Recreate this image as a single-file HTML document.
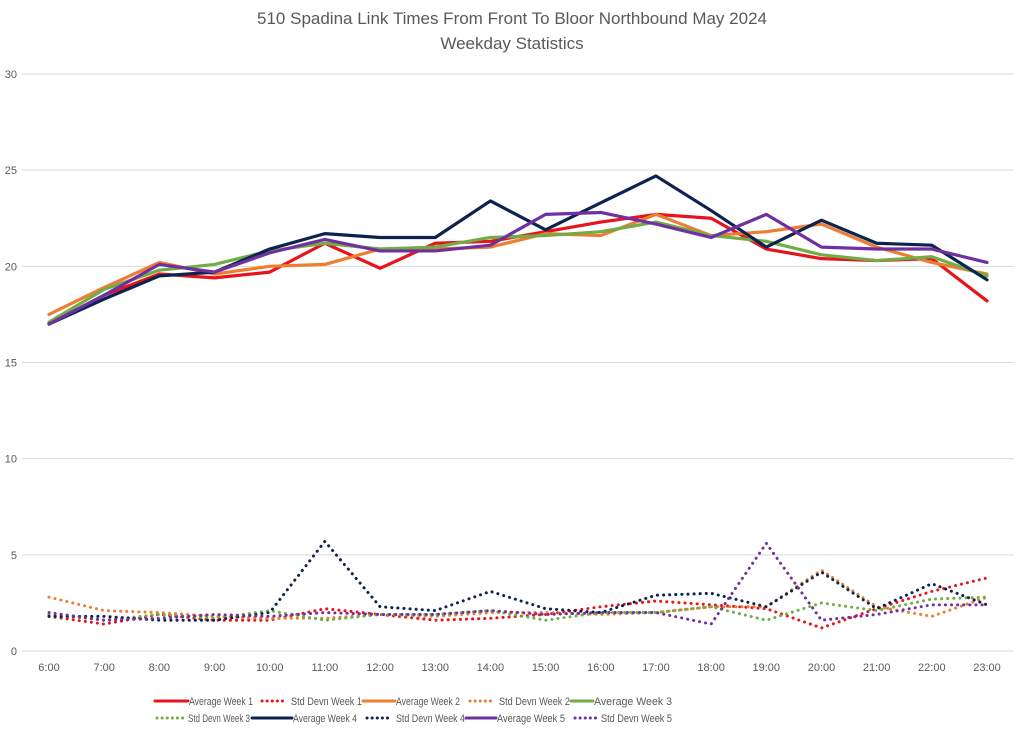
<!DOCTYPE html>
<html><head><meta charset="utf-8"><style>body{margin:0;background:#fff}svg{display:block;font-family:"Liberation Sans",sans-serif}</style></head>
<body>
<svg id="chart" width="1024" height="736">
<text x="512" y="24" text-anchor="middle" font-size="17" fill="#595959">510 Spadina Link Times From Front To Bloor Northbound May 2024</text>
<text x="512" y="49" text-anchor="middle" font-size="17" fill="#595959">Weekday Statistics</text>
<g id="grid"></g><g id="series"></g><g id="legend"></g>
</svg>
<script>
const categories=["6:00","7:00","8:00","9:00","10:00","11:00","12:00","13:00","14:00","15:00","16:00","17:00","18:00","19:00","20:00","21:00","22:00","23:00"];
const yTicks=[0,5,10,15,20,25,30];
const avgWeek1=[17.0,18.5,19.6,19.4,19.7,21.2,19.9,21.2,21.3,21.8,22.3,22.7,22.5,20.9,20.4,20.3,20.4,18.2];
const avgWeek2=[17.5,18.9,20.2,19.6,20.0,20.1,20.9,20.9,21.0,21.7,21.6,22.7,21.6,21.8,22.2,21.0,20.2,19.6];
const avgWeek3=[17.1,18.8,19.8,20.1,20.8,21.2,20.9,21.0,21.5,21.6,21.8,22.3,21.6,21.3,20.6,20.3,20.5,19.5];
const avgWeek4=[17.0,18.3,19.5,19.7,20.9,21.7,21.5,21.5,23.4,21.9,23.3,24.7,22.9,21.0,22.4,21.2,21.1,19.3];
const avgWeek5=[17.0,18.5,20.1,19.7,20.7,21.4,20.8,20.8,21.1,22.7,22.8,22.2,21.5,22.7,21.0,20.9,20.9,20.2];
const sdWeek1=[1.8,1.4,1.9,1.6,1.6,2.2,1.9,1.6,1.7,1.9,2.3,2.6,2.4,2.2,1.2,2.2,3.1,3.8];
const sdWeek2=[2.8,2.1,2.0,1.8,1.7,1.7,1.9,1.8,2.0,2.0,1.9,2.0,2.3,2.3,4.2,2.3,1.8,2.8];
const sdWeek3=[1.9,1.6,1.9,1.7,2.1,1.6,1.9,1.9,2.1,1.6,2.0,2.0,2.3,1.6,2.5,2.1,2.7,2.8];
const sdWeek4=[1.8,1.8,1.6,1.6,2.0,5.7,2.3,2.1,3.1,2.2,2.0,2.9,3.0,2.3,4.1,2.2,3.5,2.4];
const sdWeek5=[2.0,1.6,1.7,1.9,1.8,2.0,1.9,1.9,2.1,1.9,2.0,2.0,1.4,5.6,1.6,1.9,2.4,2.4];
const seriesNames=["Average Week 1","Std Devn Week 1","Average Week 2","Std Devn Week 2","Average Week 3","Std Devn Week 3","Average Week 4","Std Devn Week 4","Average Week 5","Std Devn Week 5"];

const NS="http://www.w3.org/2000/svg";
const x=i=>49+i*(938/17);
const y=v=>651-v*(577/30);
function mk(t,a,p){const e=document.createElementNS(NS,t);for(const k in a)e.setAttribute(k,a[k]);p.appendChild(e);return e;}
const grid=document.getElementById('grid');
yTicks.forEach(t=>{
  const l=mk('line',{x1:22,x2:1014,y1:y(t),y2:y(t),stroke:'#d9d9d9','stroke-width':1},grid);
  
  
  const tx=mk('text',{x:17,y:y(t)+4,'text-anchor':'end','font-size':11,fill:'#595959'},grid);
  tx.textContent=t;
  
  
});
categories.forEach((c,i)=>{
  const tx=mk('text',{x:x(i),y:671,'text-anchor':'middle','font-size':11,fill:'#595959'},grid);
  tx.textContent=c;
  
  
});
const cols=['#e8141b','#ed7d31','#70ad47','#0c2350','#7030a0'];
const avgs=[avgWeek1,avgWeek2,avgWeek3,avgWeek4,avgWeek5];
const sds=[sdWeek1,sdWeek2,sdWeek3,sdWeek4,sdWeek5];
const sg=document.getElementById('series');
function draw(d,c,dot,name){
  const p=mk('polyline',{points:d.map((v,i)=>x(i)+','+y(v)).join(' '),fill:'none',stroke:c,'stroke-width':dot?3:3.2,'stroke-linejoin':'round','stroke-linecap':'round'},sg);
  if(dot){p.setAttribute('stroke-dasharray','0.1 6');}
  
  
}
for(let k=0;k<5;k++) draw(sds[k],cols[k],true,'std-devn-week-'+(k+1));
for(let k=0;k<5;k++) draw(avgs[k],cols[k],false,'average-week-'+(k+1));
const lg=document.getElementById('legend');
const lay=[[155,188,189,253,705],[262,286,291,362,705],[363,395,396,460,705],[470,494,499,570,705],[571,593,594,672,705],
[157,183,188,250,722],[252,292,293,357,722],[367,392,396,465,722],[466,496,497,565,722],[575,596,601,672,722]];
seriesNames.forEach((n,i)=>{
  const [a,b,tx0,tx1,yy]=lay[i];const c=cols[Math.floor(i/2)];const dot=i%2==1;
  const g=mk('g',{},lg);
  
  
  const l=mk('line',{x1:a,x2:b,y1:yy-4,y2:yy-4,stroke:c,'stroke-width':3,'stroke-linecap':'round'},g);
  if(dot)l.setAttribute('stroke-dasharray','0.1 5');
  const t=mk('text',{x:tx0,y:yy,'font-size':11,fill:'#595959',textLength:tx1-tx0,lengthAdjust:'spacingAndGlyphs'},g);
  t.textContent=n;
});
</script>
</body></html>
